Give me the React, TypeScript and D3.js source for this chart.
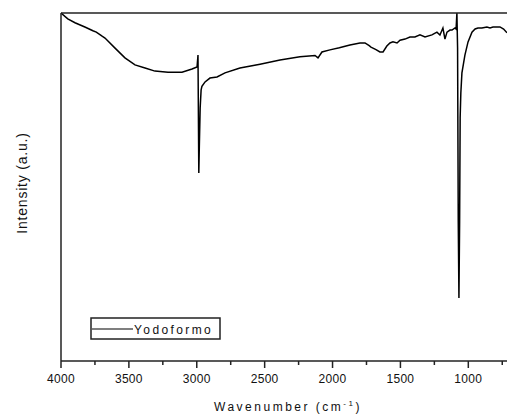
import React from "react";
import * as d3 from "d3";

const wavenumbers: number[] = [
  4000, 3950, 3897, 3820, 3765, 3740, 3700, 3676, 3602, 3529, 3455, 3381, 3308, 3212, 3109, 3035,
  2998, 2991, 2985, 2981, 2975, 2968, 2962, 2939, 2903, 2851, 2792, 2682, 2534, 2387, 2240, 2129,
  2107, 2078, 2019, 1950, 1872, 1798, 1761, 1730, 1717, 1680, 1651, 1628, 1600, 1577, 1555,
  1525, 1503, 1466, 1430, 1393, 1356, 1319, 1268, 1231, 1209, 1187, 1172, 1157, 1135, 1120,
  1098, 1090, 1084, 1079, 1074, 1069, 1064, 1060, 1055, 1047, 1025, 1002, 973, 950, 929,
  900, 863, 840, 818, 790, 767, 740, 715,
];
const intensity: number[] = [
  100, 98.3, 97.2, 95.9, 94.9, 94.5, 93.4, 92.8, 89.9, 87.1, 85.1, 84.2, 83.3, 83.0, 83.0, 83.9,
  84.5, 87.9, 54.0, 62, 72.7, 77.9, 78.9, 80.2, 81.3, 81.6, 82.8, 84.2, 85.3, 86.5, 87.4, 87.8,
  87.1, 88.8, 89.4, 90.0, 90.8, 91.4, 91.4, 90.6, 90.2, 89.5, 88.8, 88.8, 90.5, 91.4, 91.7,
  91.4, 92.2, 92.5, 93.1, 93.1, 93.7, 93.1, 93.7, 94.5, 93.7, 95.7, 92.5, 94.5, 95.1, 95.1,
  95.7, 95.4, 100, 90, 40, 18.1, 40, 70, 77, 82.8, 87.9, 91.7, 94.5, 95.4, 95.7,
  95.7, 96.0, 95.7, 96.0, 96.0, 96.0, 95.4, 94.3,
];
const majorTicks: number[] = [4000, 3500, 3000, 2500, 2000, 1500, 1000];
const minorTicks: number[] = [3750, 3250, 2750, 2250, 1750, 1250, 750];
const seriesName = "Yodoformo";

export default function App() {
  const W = 507, H = 415;
  const x = d3.scaleLinear().domain([4000, 715]).range([61, 507]);
  const y = d3.scaleLinear().domain([0, 100]).range([361, 13]);
  const pts = wavenumbers.map((w, i) => [w, intensity[i]] as [number, number]);
  const line = d3.line<[number, number]>().x(d => x(d[0])).y(d => y(d[1]));
  const font = "'Liberation Sans', Arial, sans-serif";
  const left = x(4000), right = W, top = y(100), bottom = y(0);
  return (
    <svg width={W} height={H} style={{ position: "absolute", left: 0, top: 0, background: "#fff" }}>
      <defs>
        <clipPath id="plot">
          <rect x={left} y={top - 2} width={right - left} height={bottom - top + 2} />
        </clipPath>
      </defs>
      <rect x={0} y={0} width={W} height={H} fill="#fff" />
      <path d={line(pts) || ""} fill="none" stroke="#000" strokeWidth={1.5} clipPath="url(#plot)" strokeLinejoin="miter" />
      {/* frame */}
      <line x1={left} x2={right} y1={top} y2={top} stroke="#222" strokeWidth={1.5} />
      <line x1={left} x2={left} y1={top} y2={bottom} stroke="#222" strokeWidth={1.5} />
      <line x1={left} x2={right} y1={bottom} y2={bottom} stroke="#222" strokeWidth={1.5} />
      {majorTicks.map(t => (
        <g key={"M" + t}>
          <line x1={x(t)} x2={x(t)} y1={bottom} y2={bottom + 7} stroke="#222" strokeWidth={1.5} />
          <text x={x(t)} y={383} textAnchor="middle" fontFamily={font} fontSize={12} fill="#111" letterSpacing={0.3}>{t}</text>
        </g>
      ))}
      {minorTicks.map(t => (
        <line key={"m" + t} x1={x(t)} x2={x(t)} y1={bottom} y2={bottom + 4} stroke="#222" strokeWidth={1.5} />
      ))}
      <text x={288} y={411} textAnchor="middle" fontFamily={font} fontSize={12} fill="#111" letterSpacing={2.5}>
        Wavenumber (cm<tspan dy={-5} fontSize={8}>-1</tspan><tspan dy={5}>)</tspan>
      </text>
      <text transform="translate(27,183) rotate(-90)" textAnchor="middle" fontFamily={font} fontSize={14} fill="#111" letterSpacing={0.8}>
        Intensity (a.u.)
      </text>
      {/* legend */}
      <rect x={91} y={318} width={129} height={21} fill="#fff" stroke="#222" strokeWidth={1.5} />
      <line x1={92} x2={133} y1={329} y2={329} stroke="#000" strokeWidth={1.2} />
      <text x={134} y={334} fontFamily={font} fontSize={12} fill="#111" letterSpacing={2.4}>{seriesName}</text>
    </svg>
  );
}
